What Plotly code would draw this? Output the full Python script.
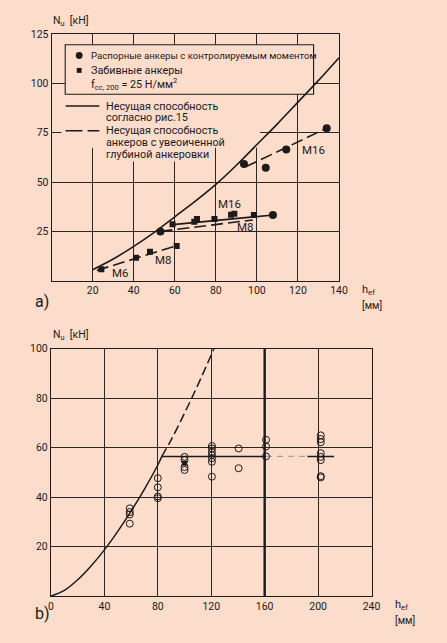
import plotly.graph_objects as go

W, H = 447, 643
BG = '#fcdccb'
INK = '#1e1a1a'
FONT = 'Roboto'

# ---------------- Panel a) data ----------------
curve_a_x = [20, 30, 40, 50, 60, 70, 80, 90, 100, 110, 120, 130, 140]
curve_a_y = [5.6, 11.0, 17.4, 24.5, 32.4, 40.3, 48.8, 58.5, 69.0, 79.5, 90.5, 101.5, 113.0]

circles_a_x = [53, 107.8, 93.7, 104.3, 114.3, 134]
circles_a_y = [24.9, 33.3, 59.2, 57.3, 66.5, 77.3]

squares_a_x = [24.2, 41.1, 47.9, 60.9, 58.9, 69.5, 70.8, 79.3, 87.4, 89.0, 98.5]
squares_a_y = [5.8, 11.7, 14.7, 17.6, 28.6, 29.9, 31.3, 31.3, 33.4, 33.9, 33.3]

m6m8_x, m6m8_y = [22, 61], [5.2, 17.8]
m16_mid_x, m16_mid_y = [59, 108], [28.4, 33.3]
m8_mid_x, m8_mid_y = [53, 98], [25.0, 30.8]
m16_top_x, m16_top_y = [94.5, 134], [57.7, 77.3]

a_xticks = [20, 40, 60, 80, 100, 120, 140]
a_yticks = [25, 50, 75, 100, 125]

# ---------------- Panel b) data ----------------
curve_b_x = [0, 10, 20, 30, 40, 50, 60, 70, 80, 83]
curve_b_y = [0, 2.3, 6.6, 12.2, 18.7, 26.2, 34.4, 43.3, 53.0, 56.5]
dash_b_x = [83, 90, 100, 110, 122]
dash_b_y = [56.5, 63.2, 74.0, 85.4, 100.0]
plateau_solid1_x, plateau_solid1_y = [83, 161], [56.5, 56.5]
plateau_faint_x, plateau_faint_y = [161, 192], [56.5, 56.5]
plateau_solid2_x, plateau_solid2_y = [192, 212], [56.5, 56.5]

circles_b_x = ([59] * 4 + [80] * 4 + [100] * 4 + [120.5] * 7 + [140.5] * 2
               + [161] * 3 + [202] * 8)
circles_b_y = ([35.5, 34.0, 33.0, 29.3]
               + [47.7, 44.0, 40.3, 39.6]
               + [56.3, 55.0, 52.2, 51.0]
               + [60.7, 59.7, 58.3, 57.0, 55.7, 54.3, 48.3]
               + [59.7, 51.7]
               + [63.2, 60.5, 56.5]
               + [65.0, 63.5, 62.2, 57.8, 56.3, 55.0, 48.5, 48.0])
square_b_x, square_b_y = [100], [53.7]

b_xticks = [0, 40, 80, 120, 160, 200, 240]
b_yticks = [20, 40, 60, 80, 100]


def px(x):
    return x / W


def py(y):
    return 1 - y / H


fig = go.Figure()

# panel a traces
fig.add_trace(go.Scatter(x=curve_a_x, y=curve_a_y, mode='lines', line=dict(color=INK, width=1.6, shape='spline'),
                         xaxis='x', yaxis='y'))
for lx, ly, dash in [(m6m8_x, m6m8_y, '12px,5px'), (m16_mid_x, m16_mid_y, 'solid'),
                     (m8_mid_x, m8_mid_y, '12px,5px'), (m16_top_x, m16_top_y, '12px,5px')]:
    fig.add_trace(go.Scatter(x=lx, y=ly, mode='lines', line=dict(color=INK, width=1.6, dash=dash),
                             xaxis='x', yaxis='y'))
fig.add_trace(go.Scatter(x=circles_a_x, y=circles_a_y, mode='markers',
                         marker=dict(symbol='circle', size=8, color=INK), xaxis='x', yaxis='y'))
fig.add_trace(go.Scatter(x=squares_a_x, y=squares_a_y, mode='markers',
                         marker=dict(symbol='square', size=6, color=INK), xaxis='x', yaxis='y'))

# panel b traces
fig.add_trace(go.Scatter(x=curve_b_x, y=curve_b_y, mode='lines', line=dict(color=INK, width=1.5, shape='spline'),
                         xaxis='x2', yaxis='y2'))
fig.add_trace(go.Scatter(x=dash_b_x, y=dash_b_y, mode='lines',
                         line=dict(color=INK, width=1.5, dash='9px,4px', shape='spline'), xaxis='x2', yaxis='y2'))
fig.add_trace(go.Scatter(x=plateau_solid1_x, y=plateau_solid1_y, mode='lines',
                         line=dict(color=INK, width=1.5), xaxis='x2', yaxis='y2'))
fig.add_trace(go.Scatter(x=plateau_faint_x, y=plateau_faint_y, mode='lines',
                         line=dict(color='#b0a09a', width=1.2, dash='6px,5px'), xaxis='x2', yaxis='y2'))
fig.add_trace(go.Scatter(x=plateau_solid2_x, y=plateau_solid2_y, mode='lines',
                         line=dict(color=INK, width=1.5), xaxis='x2', yaxis='y2'))
fig.add_trace(go.Scatter(x=circles_b_x, y=circles_b_y, mode='markers',
                         marker=dict(symbol='circle-open', size=7, color=INK, line=dict(width=1)),
                         xaxis='x2', yaxis='y2'))
fig.add_trace(go.Scatter(x=square_b_x, y=square_b_y, mode='markers',
                         marker=dict(symbol='square', size=5, color=INK), xaxis='x2', yaxis='y2'))

axis_common = dict(showline=True, linecolor=INK, linewidth=1.2, mirror=True, zeroline=False,
                   showgrid=True, gridcolor='#2b2626', gridwidth=1, ticks='',
                   tickfont=dict(family=FONT, size=10.5, color=INK), fixedrange=True)

fig.update_layout(
    width=W, height=H, margin=dict(l=0, r=0, t=0, b=0),
    paper_bgcolor=BG, plot_bgcolor=BG, showlegend=False,
    font=dict(family=FONT, color=INK),
    xaxis=dict(domain=[px(50), px(345.3)], range=[0, 140], tickvals=a_xticks, anchor='y', **axis_common),
    yaxis=dict(domain=[py(277.3), py(28.3)], range=[0, 125], tickvals=a_yticks, anchor='x', **axis_common),
    xaxis2=dict(domain=[px(49.3), px(378.7)], range=[0, 240], tickvals=b_xticks, anchor='y2', **axis_common),
    yaxis2=dict(domain=[py(595.7), py(346)], range=[0, 100], tickvals=b_yticks, anchor='x2', **axis_common),
)

shapes = []
# covers for legend area (hide gridlines)
for x0, x1, y0, y1 in [(4.7, 101.5, 67.4, 94.5), (35.6, 76.8, 60.4, 67.4)]:
    shapes.append(dict(type='rect', xref='x', yref='y', x0=x0, x1=x1, y0=y0, y1=y1,
                       fillcolor=BG, line=dict(width=0), layer='between'))
# legend box
shapes.append(dict(type='rect', xref='x', yref='y', x0=6.6, x1=127.6, y0=94.5, y1=119.6,
                   fillcolor=BG, line=dict(color=INK, width=1.1), layer='between'))
# legend symbol samples
shapes.append(dict(type='circle', xref='paper', yref='paper', x0=px(74.8), x1=px(81.8),
                   y0=py(53.5), y1=py(46.5), fillcolor=INK, line=dict(width=0)))
shapes.append(dict(type='rect', xref='paper', yref='paper', x0=px(75.8), x1=px(80.8),
                   y0=py(67.5), y1=py(62.5), fillcolor=INK, line=dict(width=0)))
shapes.append(dict(type='line', xref='paper', yref='paper', x0=px(64.3), x1=px(99), y0=py(101), y1=py(101),
                   line=dict(color=INK, width=1.6)))
shapes.append(dict(type='line', xref='paper', yref='paper', x0=px(64.3), x1=px(99), y0=py(126), y1=py(126),
                   line=dict(color=INK, width=1.6, dash='17px,5px')))
# heavy vertical line at 160 in panel b
shapes.append(dict(type='line', xref='x2', yref='y2', x0=160, x1=160, y0=0, y1=100,
                   line=dict(color=INK, width=2.4), layer='between'))
fig.update_layout(shapes=shapes)

ann = []


def text(x, y, s, size=10.5, xanchor='left', yanchor='middle', xref='paper', yref='paper'):
    ann.append(dict(x=x, y=y, xref=xref, yref=yref, text=s, showarrow=False, xanchor=xanchor,
                    yanchor=yanchor, font=dict(family=FONT, size=size, color=INK)))


text(px(88), py(50), 'Распорные анкеры с контролируемым моментом', size=9.6)
text(px(88), py(65), 'Забивные анкеры', size=10.8)
text(px(88), py(79), 'f<sub>cc, 200</sub> = 25 Н/мм<sup>2</sup>', size=10.8)
text(px(103.5), py(101), 'Несущая способность', size=10.8)
text(px(103.5), py(113), 'согласно рис.15', size=10.8)
text(px(103.5), py(126), 'Несущая способность', size=10.8)
text(px(103.5), py(138), 'анкеров с увеоиченной', size=10.8)
text(px(103.5), py(150), 'глубиной анкеровки', size=10.8)

# M labels (panel a)
for lx, ly, s in [(127.8, 66.4, 'M16'), (86.5, 38.8, 'M16'), (94.2, 27.1, 'M8'),
                  (54.5, 10.7, 'M8'), (33.6, 3.7, 'M6')]:
    text(lx, ly, s, size=11.5, xanchor='center', xref='x', yref='y')

# axis titles
text(px(49), py(15), 'N<sub>u</sub>  [кН]', size=10.5)
text(px(49), py(332.5), 'N<sub>u</sub>  [кН]', size=10.5)
text(px(367), py(287), 'h<sub>ef</sub>', size=11)
text(px(367), py(302), '[мм]', size=10)
text(px(401), py(605), 'h<sub>ef</sub>', size=11)
text(px(401), py(620), '[мм]', size=10)
text(px(31), py(298), 'a)', size=16)
text(px(31), py(613), 'b)', size=16)

fig.update_layout(annotations=ann)
fig.write_html('out.html', config={'displayModeBar': False},
               post_script="document.body.style.margin='0';document.body.style.overflow='hidden';")
